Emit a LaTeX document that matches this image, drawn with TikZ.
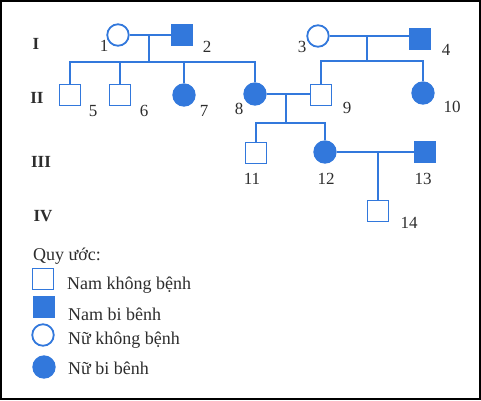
\documentclass[tikz,border=0pt]{standalone}
\usepackage{fontspec}
\setmainfont{Liberation Serif}
\definecolor{pedblue}{RGB}{50,120,220}
\definecolor{txt}{RGB}{45,45,45}
\begin{document}
\begin{tikzpicture}[x=1pt,y=-1pt,
  male/.style={draw=pedblue,line width=1.8pt,fill=white,minimum size=21pt,inner sep=0pt,rectangle},
  malex/.style={male,fill=pedblue},
  fem/.style={draw=pedblue,line width=1.8pt,fill=white,minimum size=21.5pt,inner sep=0pt,circle},
  femx/.style={fem,fill=pedblue},
  lnk/.style={draw=pedblue,line width=1.6pt},
  num/.style={text=txt,font=\fontsize{17}{20}\selectfont,inner sep=0pt},
  gen/.style={text=txt,font=\fontsize{17}{20}\selectfont\bfseries,inner sep=0pt},
  leg/.style={text=txt,font=\fontsize{18}{21}\selectfont,inner sep=0pt,anchor=west}]
\useasboundingbox (0,0) rectangle (481,400);
\draw[line width=2pt] (1,1) rectangle (480,399);
% generation labels
\node[gen] (g1) at (36,44) {I};
\node[gen] (g2) at (37,98) {II};
\node[gen] (g3) at (41,162) {III};
\node[gen] (g4) at (43,216) {IV};
% junction points
\coordinate (m12) at (149,35);
\coordinate (s12) at (149,62);
\coordinate (m34) at (367,35);
\coordinate (s34) at (367,61);
\coordinate (m89) at (286,94);
\coordinate (s89) at (286,123);
\coordinate (m1213) at (378,152);
% persons
\node[fem] (p1) at (118,35) {};
\node[malex] (p2) at (182,35) {};
\node[fem] (p3) at (318,36) {};
\node[malex] (p4) at (420,39) {};
\node[male] (p5) at (70,95) {};
\node[male] (p6) at (120,95) {};
\node[femx] (p7) at (184,95) {};
\node[femx] (p8) at (255,94) {};
\node[male] (p9) at (321,95) {};
\node[femx] (p10) at (423,93) {};
\node[male] (p11) at (256,153) {};
\node[femx] (p12) at (325,152) {};
\node[malex] (p13) at (425,152) {};
\node[male] (p14) at (378,211) {};
% connectors
\path[lnk] (p1.east) -- (p2.west);
\path[lnk] (m12) -- (s12);
\path[lnk] (p5.north) |- (s12) -| (p8.north);
\path[lnk] (p6.north) -- (p6.north |- s12);
\path[lnk] (p7.north) -- (p7.north |- s12);
\path[lnk] (p3.east) -- (p3.east -| p4.west);
\path[lnk] (m34) -- (s34);
\path[lnk] (p9.north) |- (s34) -| (p10.north);
\path[lnk] (p8.east) -- (p8.east -| p9.west);
\path[lnk] (m89) -- (s89);
\path[lnk] (p11.north) |- (s89) -| (p12.north);
\path[lnk] (p12.east) -- (p13.west);
\path[lnk] (m1213) -- (p14.north);
% number labels
\node[num] (n1) at (104,46) {1};
\node[num] (n2) at (207,47) {2};
\node[num] (n3) at (302,47) {3};
\node[num] (n4) at (446,50) {4};
\node[num] (n5) at (93,111) {5};
\node[num] (n6) at (144,111) {6};
\node[num] (n7) at (204,111) {7};
\node[num] (n8) at (239,109) {8};
\node[num] (n9) at (347,108) {9};
\node[num] (n10) at (452,107) {10};
\node[num] (n11) at (252,179) {11};
\node[num] (n12) at (326,179) {12};
\node[num] (n13) at (423,179) {13};
\node[num] (n14) at (409,223) {14};
% legend
\node[leg] (qu) at (33,256) {Quy ước:};
\node[male] (l1) at (43,279) {};
\node[malex] (l2) at (44,307) {};
\node[fem] (l3) at (43,335) {};
\node[femx] (l4) at (44,367) {};
\node[leg] (t1) at (67,285) {Nam không bệnh};
\node[leg] (t2) at (68,314) {Nam bi bênh};
\node[leg] (t3) at (68,340) {Nữ không bệnh};
\node[leg] (t4) at (68,368) {Nữ bi bênh};
\end{tikzpicture}
\end{document}
